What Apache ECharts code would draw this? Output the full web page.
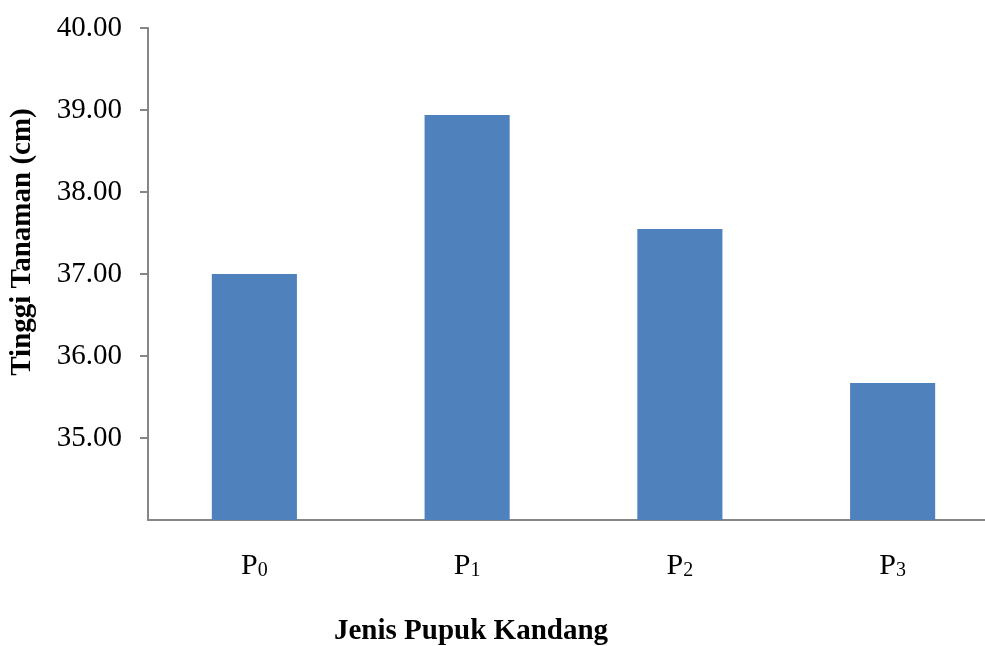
<!DOCTYPE html>
<html>
<head>
<meta charset="utf-8">
<script src="https://cdn.jsdelivr.net/npm/echarts@6/dist/echarts.min.js"></script>
<style>
html,body{margin:0;padding:0;background:#fff;overflow:hidden;width:985px;height:646px;}
#c{width:999px;height:646px;}
</style>
</head>
<body>
<div id="c"></div>
<script>
const categories = ['0', '1', '2', '3'];
const heights = [37.00, 38.94, 37.55, 35.67];
const yTicks = [34, 35, 36, 37, 38, 39, 40];
const xTitle = 'Jenis Pupuk Kandang';
const yTitle = 'Tinggi Tanaman (cm)';

const serif = '"Liberation Serif", "Times New Roman", serif';
const chart = echarts.init(document.getElementById('c'));
chart.setOption({
  animation: false,
  backgroundColor: '#ffffff',
  grid: { left: 148, top: 28, bottom: 126, right: 0, containLabel: false },
  xAxis: {
    type: 'category',
    data: categories,
    axisLine: { lineStyle: { color: '#868686', width: 2 } },
    axisTick: { show: false },
    axisLabel: {
      margin: 29,
      formatter: v => '{p|P}{s|' + v + '}',
      rich: {
        p: { fontFamily: serif, fontSize: 30, color: '#000', verticalAlign: 'bottom', lineHeight: 32 },
        s: { fontFamily: serif, fontSize: 20, color: '#000', verticalAlign: 'bottom', lineHeight: 32 }
      }
    },
    splitLine: { show: false }
  },
  yAxis: {
    type: 'value',
    min: yTicks[0],
    max: yTicks[yTicks.length - 1],
    interval: 1,
    axisLine: { show: true, lineStyle: { color: '#868686', width: 2 } },
    axisTick: { show: true, length: 8, lineStyle: { color: '#868686', width: 2 } },
    axisLabel: {
      showMinLabel: false,
      margin: 26,
      fontFamily: serif,
      fontSize: 29,
      color: '#000',
      formatter: v => v.toFixed(2)
    },
    splitLine: { show: false }
  },
  series: [{
    type: 'bar',
    data: heights,
    barWidth: '40%',
    itemStyle: { color: '#4F81BD' }
  }],
  graphic: [
    {
      type: 'text',
      left: 334,
      top: 617,
      style: { text: xTitle, font: 'bold 29px ' + serif, fill: '#000' }
    },
    {
      type: 'text',
      x: 23,
      y: 242,
      rotation: Math.PI / 2,
      style: { text: yTitle, font: 'bold 29px ' + serif, fill: '#000', align: 'center', verticalAlign: 'middle' }
    }
  ]
});
</script>
</body>
</html>
